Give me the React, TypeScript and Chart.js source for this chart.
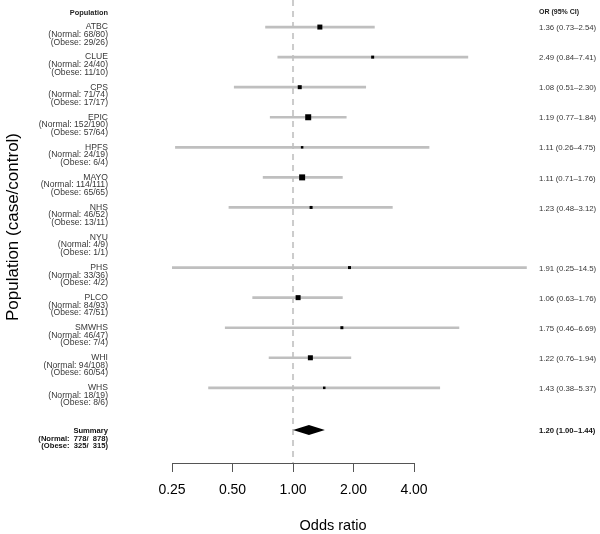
import React, { useEffect, useRef } from "react";
import { Chart, registerables } from "chart.js";
Chart.register(...registerables);

const studies = ["ATBC", "CLUE", "CPS", "EPIC", "HPFS", "MAYO", "NHS", "NYU", "PHS", "PLCO", "SMWHS", "WHI", "WHS"];
const normalCounts = ["68/80", "24/40", "71/74", "152/190", "24/19", "114/111", "46/52", "4/9", "33/36", "84/93", "46/47", "94/108", "18/19"];
const obeseCounts = ["29/26", "11/10", "17/17", "57/64", "6/4", "65/65", "13/11", "1/1", "4/2", "47/51", "7/4", "60/54", "8/6"];
const oddsRatio = [1.36, 2.49, 1.08, 1.19, 1.11, 1.11, 1.23, null, 1.91, 1.06, 1.75, 1.22, 1.43];
const ciLower = [0.73, 0.84, 0.51, 0.77, 0.26, 0.71, 0.48, null, 0.25, 0.63, 0.46, 0.76, 0.38];
const ciUpper = [2.54, 7.41, 2.3, 1.84, 4.75, 1.76, 3.12, null, 14.5, 1.76, 6.69, 1.94, 5.37];
const weights = [5, 3, 4, 6, 2.5, 6, 3, null, 3, 5, 3, 5, 2.5];

const summaryOR = 1.2;
const summaryLower = 1.0;
const summaryUpper = 1.44;
const summaryNormal = "(Normal:  778/  878)";
const summaryObese = "(Obese:  325/  315)";

const xTicks = [0.25, 0.5, 1, 2, 4];
const xMin = 0.25;
const xMax = 15.1;
const yMin = -0.9;
const yMax = 14.5;
const headerRow = -0.5;
const summaryRow = 13.4;

const FONT = '"Liberation Sans", Arial, Helvetica, sans-serif';

const fmt = (v: number) => (v >= 10 ? v.toFixed(1) : v.toFixed(2));

export default function App() {
  const ref = useRef<HTMLCanvasElement>(null);

  useEffect(() => {
    const canvas = ref.current!;
    const rows = studies.map((_, i) => i).filter((i) => oddsRatio[i] != null);

    const textPlugin = {
      id: "forestText",
      afterDraw(chart: any) {
        const c = chart.ctx as CanvasRenderingContext2D;
        const xs = chart.scales.x;
        const ys = chart.scales.y;
        const area = chart.chartArea;
        c.save();
        // axis line
        c.strokeStyle = "#555";
        c.lineWidth = 1;
        c.beginPath();
        c.moveTo(xs.getPixelForValue(xTicks[0]), area.bottom + 0.5);
        c.lineTo(xs.getPixelForValue(xTicks[xTicks.length - 1]), area.bottom + 0.5);
        c.stroke();

        // summary diamond
        const sy = ys.getPixelForValue(summaryRow);
        const h = 5;
        c.fillStyle = "#000";
        c.beginPath();
        c.moveTo(xs.getPixelForValue(summaryLower), sy);
        c.lineTo(xs.getPixelForValue(summaryOR), sy - h);
        c.lineTo(xs.getPixelForValue(summaryUpper), sy);
        c.lineTo(xs.getPixelForValue(summaryOR), sy + h);
        c.closePath();
        c.fill();

        const leftX = 108;
        const rightX = area.right + 9;
        c.textBaseline = "middle";
        c.fillStyle = "#222";

        // headers
        const hy = ys.getPixelForValue(headerRow);
        c.font = `bold 7.4px ${FONT}`;
        c.textAlign = "right";
        c.fillText("Population", leftX, hy + 1);
        c.textAlign = "left";
        c.font = `bold 7px ${FONT}`;
        c.fillText("OR (95% CI)", rightX, hy);

        // study labels
        studies.forEach((name, i) => {
          const y = ys.getPixelForValue(i);
          c.textAlign = "right";
          c.font = `8.6px ${FONT}`;
          c.fillStyle = "#383838";
          c.fillText(name, leftX, y);
          c.fillText(`(Normal: ${normalCounts[i]})`, leftX, y + 7.6);
          c.fillText(`(Obese: ${obeseCounts[i]})`, leftX, y + 15.2);
          const o = oddsRatio[i];
          const lo = ciLower[i];
          const hi = ciUpper[i];
          if (o != null && lo != null && hi != null) {
            c.textAlign = "left";
            c.font = `7.8px ${FONT}`;
            c.fillText(`${fmt(o)} (${fmt(lo)}\u2013${fmt(hi)})`, rightX, y + 1);
          }
        });

        // summary labels
        c.fillStyle = "#111";
        c.textAlign = "right";
        c.font = `bold 7.6px ${FONT}`;
        c.fillText("Summary", leftX, sy + 1);
        c.fillText(summaryNormal, leftX, sy + 8.5);
        c.fillText(summaryObese, leftX, sy + 15.5);
        c.textAlign = "left";
        c.font = `bold 7.7px ${FONT}`;
        c.fillText(`${fmt(summaryOR)} (${fmt(summaryLower)}\u2013${fmt(summaryUpper)})`, rightX, sy + 1);

        // axis titles
        c.fillStyle = "#000";
        c.font = `14.5px ${FONT}`;
        c.textAlign = "center";
        c.fillText("Odds ratio", 333, 526);
        c.save();
        c.translate(13, 227);
        c.rotate(-Math.PI / 2);
        c.font = `17px ${FONT}`;
        c.fillText("Population (case/control)", 0, 0);
        c.restore();

        c.restore();
      },
    };

    const chart = new Chart(canvas, {
      type: "scatter",
      data: {
        datasets: [
          {
            type: "scatter",
            data: rows.map((i) => ({ x: oddsRatio[i] as number, y: i })),
            pointStyle: "rect",
            pointRadius: rows.map((i) => (weights[i] as number) / (2 * Math.SQRT1_2)),
            pointHoverRadius: rows.map((i) => (weights[i] as number) / (2 * Math.SQRT1_2)),
            backgroundColor: "#000",
            borderWidth: 0,
          } as any,
          {
            type: "bar",
            indexAxis: "y",
            data: rows.map((i) => ({ x: [ciLower[i], ciUpper[i]], y: i })),
            barThickness: 2,
            backgroundColor: "#bfbfbf",
            borderWidth: 0,
          } as any,
          {
            type: "line",
            data: [
              { x: 1, y: yMin },
              { x: 1, y: yMax },
            ],
            borderColor: "#cccccc",
            borderWidth: 2,
            borderDash: [6, 5],
            pointRadius: 0,
            fill: false,
          } as any,
        ],
      },
      options: {
        animation: false,
        responsive: false,
        devicePixelRatio: 1,
        layout: { autoPadding: false, padding: { left: 172, right: 70, top: 0, bottom: 0 } },
        plugins: { legend: { display: false }, tooltip: { enabled: false } },
        events: [],
        scales: {
          x: {
            type: "logarithmic",
            min: xMin,
            max: xMax,
            offset: false,
            afterBuildTicks: (scale: any) => {
              scale.ticks = xTicks.map((v) => ({ value: v }));
            },
            afterFit: (scale: any) => {
              scale.height = 71;
            },
            ticks: {
              autoSkip: false,
              maxRotation: 0,
              padding: 10,
              color: "#000",
              font: { family: FONT, size: 14 },
              callback: (v: any) => Number(v).toFixed(2),
            },
            grid: {
              display: true,
              offset: false,
              drawOnChartArea: false,
              drawTicks: true,
              tickLength: 9,
              color: "#555",
              lineWidth: 1,
            },
            border: { display: false },
          },
          y: {
            type: "linear",
            reverse: true,
            min: yMin,
            max: yMax,
            offset: false,
            grid: { offset: false },
            display: false,
          },
        },
      } as any,
      plugins: [textPlugin],
    });
    return () => chart.destroy();
  }, []);

  return (
    <div style={{ position: "fixed", left: 0, top: 0, width: 600, height: 534 }}>
      <canvas ref={ref} width={600} height={534} style={{ display: "block", width: 600, height: 534 }} />
    </div>
  );
}
